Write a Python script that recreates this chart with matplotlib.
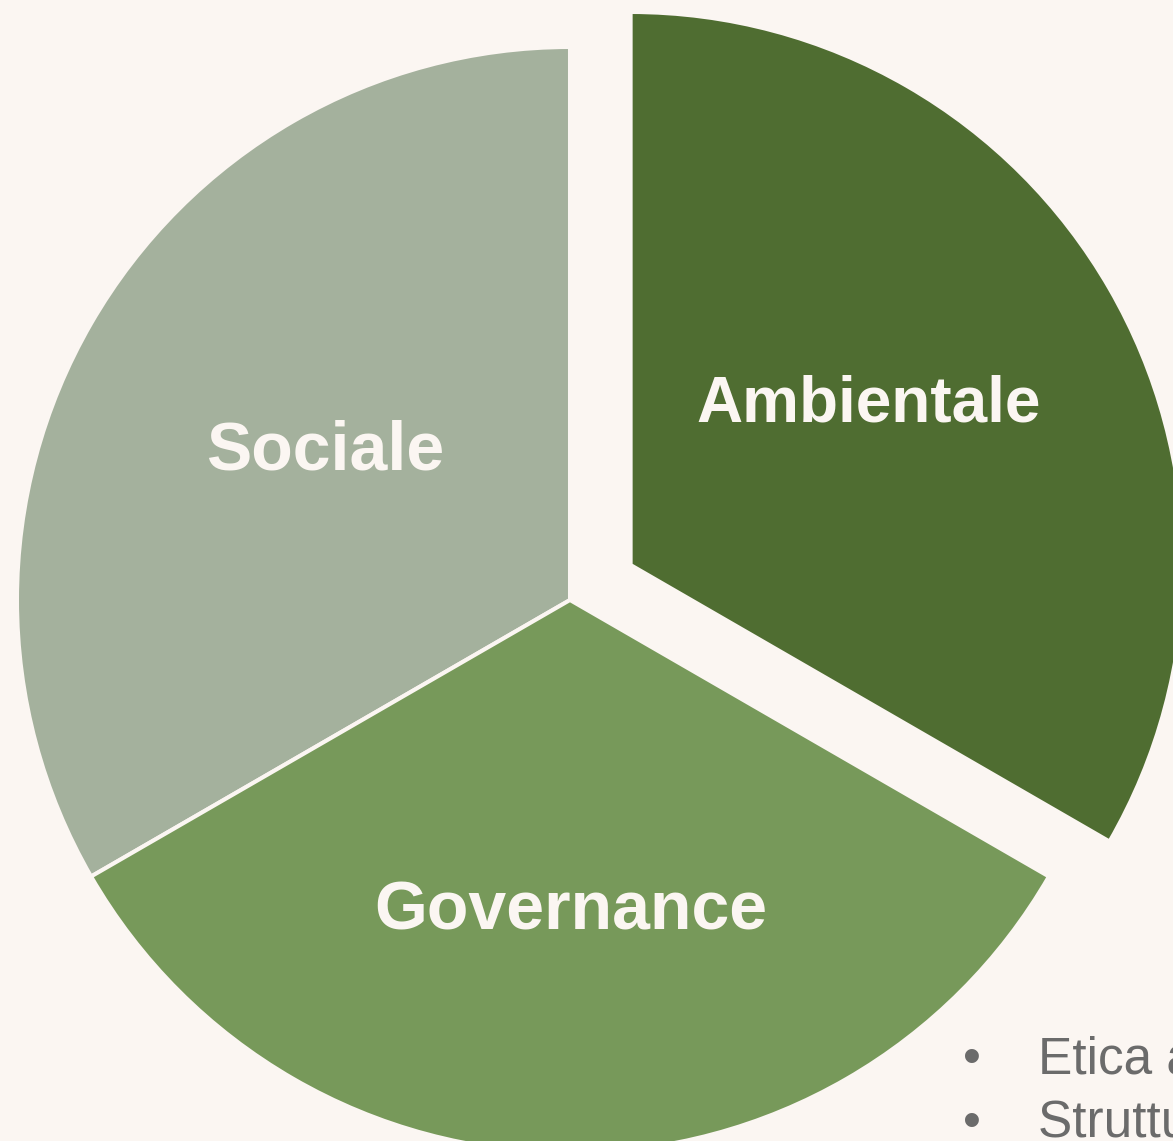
import matplotlib.pyplot as plt

# ESG pillars, three equal shares
labels = ["Ambientale", "Sociale", "Governance"]
values = [1, 1, 1]
colors = ["#4F6D31", "#A4B19D", "#77995A"]
explode = [70, 0, 0]   # pie explode is in data units here (px)
label_pos = [(869, 719), (325, 671), (571, 211)]   # baseline positions (px from bottom)
label_size = [46, 49, 49]

bullets = ["Etica aziendale", "Struttura di governance"]
bullet_y = [68, 4]

bg = "#FBF6F2"

plt.rcParams['font.family'] = ['Liberation Sans', 'DejaVu Sans']

fig = plt.figure(figsize=(11.73, 11.41), dpi=100)
fig.patch.set_facecolor(bg)
ax = fig.add_axes([0, 0, 1, 1])
ax.set_facecolor(bg)

wedges, _ = ax.pie(values, colors=colors, explode=explode, startangle=-30,
                   center=(570, 541), radius=553, counterclock=True,
                   wedgeprops=dict(edgecolor=bg, linewidth=2.9))
for w in wedges:
    w.set_clip_on(False)
ax.set_xlim(0, 1173)
ax.set_ylim(0, 1141)
ax.set_aspect('equal')
ax.axis('off')

for lab, (x, y), fs in zip(labels, label_pos, label_size):
    ax.text(x, y, lab, ha='center', va='baseline', fontsize=fs,
            fontweight='bold', color=bg)

for txt, y in zip(bullets, bullet_y):
    ax.text(972, y, "\u2022", ha='center', va='baseline', fontsize=37, color="#6B6B6B")
    ax.text(1038, y, txt, ha='left', va='baseline', fontsize=37, color="#6B6B6B")

fig.savefig("out.png", dpi=100, facecolor=bg)
